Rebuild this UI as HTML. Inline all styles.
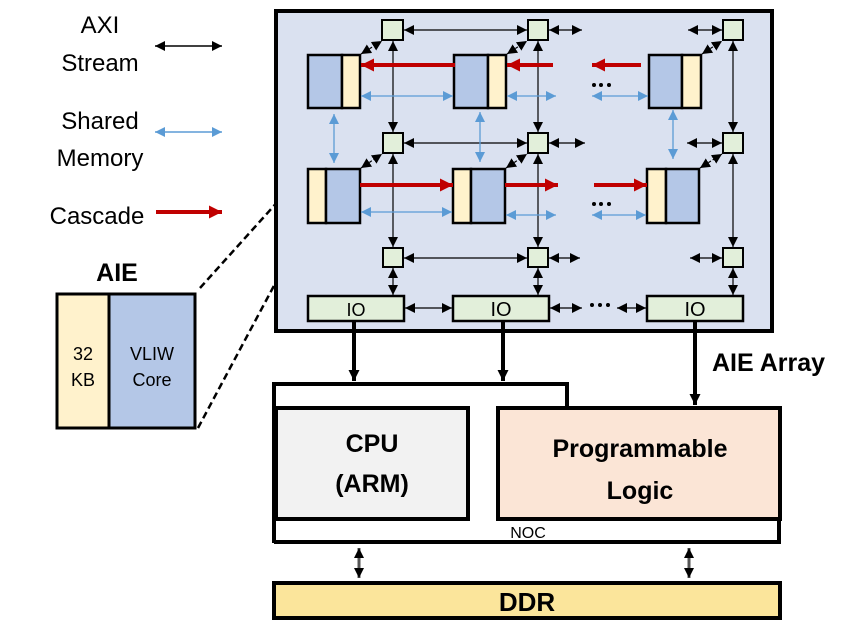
<!DOCTYPE html>
<html><head><meta charset="utf-8"><style>
html,body{margin:0;padding:0;background:#fff;}
svg{display:block;}
text{font-family:"Liberation Sans",sans-serif;}
</style></head><body>
<svg width="852" height="625" viewBox="0 0 852 625" xmlns="http://www.w3.org/2000/svg">
<defs>
<marker id="ka" viewBox="0 0 10 10" refX="10" refY="5" markerWidth="10" markerHeight="10" markerUnits="userSpaceOnUse" orient="auto-start-reverse"><path d="M0,0 L10,5 L0,10 z" fill="#000"/></marker>
<marker id="ba" viewBox="0 0 10 10" refX="10" refY="5" markerWidth="10" markerHeight="10" markerUnits="userSpaceOnUse" orient="auto-start-reverse"><path d="M0,0 L10,5 L0,10 z" fill="#5b9bd5"/></marker>
<marker id="ra" viewBox="0 0 10 10" refX="10" refY="5" markerWidth="13" markerHeight="13" markerUnits="userSpaceOnUse" orient="auto-start-reverse"><path d="M0,0 L10,5 L0,10 z" fill="#c00000"/></marker>
<marker id="ta" viewBox="0 0 10 10" refX="10" refY="5" markerWidth="11" markerHeight="11" markerUnits="userSpaceOnUse" orient="auto-start-reverse"><path d="M0,0 L10,5 L0,10 z" fill="#000"/></marker>
</defs>

<!-- Legend -->
<text x="100" y="33" font-size="24" text-anchor="middle">AXI</text>
<text x="100" y="71" font-size="24" text-anchor="middle">Stream</text>
<line x1="155" y1="46" x2="222" y2="46" stroke="#000" stroke-width="1.5" marker-start="url(#ka)" marker-end="url(#ka)"/>
<text x="100" y="129" font-size="24" text-anchor="middle">Shared</text>
<text x="100" y="166" font-size="24" text-anchor="middle">Memory</text>
<line x1="155" y1="132" x2="222" y2="132" stroke="#5b9bd5" stroke-width="1.5" marker-start="url(#ba)" marker-end="url(#ba)"/>
<text x="97" y="224" font-size="24" text-anchor="middle">Cascade</text>
<line x1="156" y1="212" x2="222" y2="212" stroke="#c00000" stroke-width="4" marker-end="url(#ra)"/>

<!-- AIE detail -->
<text x="117" y="281" font-size="25" font-weight="bold" text-anchor="middle">AIE</text>
<rect x="57" y="294" width="52" height="134" fill="#fff2cc" stroke="#000" stroke-width="3"/>
<rect x="109" y="294" width="86" height="134" fill="#b4c7e7" stroke="#000" stroke-width="3"/>
<text x="83" y="360" font-size="18" text-anchor="middle">32</text>
<text x="83" y="386" font-size="18" text-anchor="middle">KB</text>
<text x="152" y="360" font-size="18" text-anchor="middle">VLIW</text>
<text x="152" y="386" font-size="18" text-anchor="middle">Core</text>
<line x1="200" y1="288" x2="308" y2="168" stroke="#000" stroke-width="2.5" stroke-dasharray="7,4"/>
<line x1="198" y1="428" x2="308" y2="222" stroke="#000" stroke-width="2.5" stroke-dasharray="7,4"/>

<!-- Main AIE array -->
<rect x="276" y="11" width="496" height="320" fill="#dae1f0" stroke="#000" stroke-width="4"/>

<g stroke="#000" stroke-width="1.2" fill="none">
<line x1="393" y1="41" x2="393" y2="132" marker-start="url(#ka)" marker-end="url(#ka)"/>
<line x1="393" y1="154" x2="393" y2="247" marker-start="url(#ka)" marker-end="url(#ka)"/>
<line x1="393" y1="268" x2="393" y2="295" marker-start="url(#ka)" marker-end="url(#ka)"/>
<line x1="538" y1="41" x2="538" y2="132" marker-start="url(#ka)" marker-end="url(#ka)"/>
<line x1="538" y1="154" x2="538" y2="247" marker-start="url(#ka)" marker-end="url(#ka)"/>
<line x1="538" y1="268" x2="538" y2="295" marker-start="url(#ka)" marker-end="url(#ka)"/>
<line x1="733" y1="41" x2="733" y2="132" marker-start="url(#ka)" marker-end="url(#ka)"/>
<line x1="733" y1="154" x2="733" y2="247" marker-start="url(#ka)" marker-end="url(#ka)"/>
<line x1="733" y1="268" x2="733" y2="295" marker-start="url(#ka)" marker-end="url(#ka)"/>
<line x1="404" y1="30" x2="527" y2="30" marker-start="url(#ka)" marker-end="url(#ka)"/>
<line x1="549" y1="30" x2="582" y2="30" marker-start="url(#ka)" marker-end="url(#ka)"/>
<line x1="688" y1="30" x2="722" y2="30" marker-start="url(#ka)" marker-end="url(#ka)"/>
<line x1="404" y1="143" x2="527" y2="143" marker-start="url(#ka)" marker-end="url(#ka)"/>
<line x1="549" y1="143" x2="585" y2="143" marker-start="url(#ka)" marker-end="url(#ka)"/>
<line x1="687" y1="143" x2="722" y2="143" marker-start="url(#ka)" marker-end="url(#ka)"/>
<line x1="404" y1="258" x2="527" y2="258" marker-start="url(#ka)" marker-end="url(#ka)"/>
<line x1="549" y1="258" x2="580" y2="258" marker-start="url(#ka)" marker-end="url(#ka)"/>
<line x1="690" y1="258" x2="722" y2="258" marker-start="url(#ka)" marker-end="url(#ka)"/>
<line x1="405" y1="308" x2="452" y2="308" marker-start="url(#ka)" marker-end="url(#ka)"/>
<line x1="550" y1="308" x2="582" y2="308" marker-start="url(#ka)" marker-end="url(#ka)"/>
<line x1="617" y1="308" x2="646" y2="308" marker-start="url(#ka)" marker-end="url(#ka)"/>
<line x1="361" y1="54" x2="382" y2="41" stroke-dasharray="3,2" marker-start="url(#ka)" marker-end="url(#ka)"/>
<line x1="507" y1="54" x2="527" y2="41" stroke-dasharray="3,2" marker-start="url(#ka)" marker-end="url(#ka)"/>
<line x1="702" y1="54" x2="722" y2="41" stroke-dasharray="3,2" marker-start="url(#ka)" marker-end="url(#ka)"/>
<line x1="361" y1="168" x2="382" y2="154" stroke-dasharray="3,2" marker-start="url(#ka)" marker-end="url(#ka)"/>
<line x1="506" y1="168" x2="527" y2="154" stroke-dasharray="3,2" marker-start="url(#ka)" marker-end="url(#ka)"/>
<line x1="700" y1="168" x2="722" y2="154" stroke-dasharray="3,2" marker-start="url(#ka)" marker-end="url(#ka)"/>
</g>

<g fill="#e2efda" stroke="#000" stroke-width="2">
<rect x="382" y="20" width="21" height="20"/><rect x="528" y="20" width="20" height="20"/><rect x="723" y="20" width="20" height="20"/>
<rect x="383" y="133" width="20" height="20"/><rect x="528" y="133" width="20" height="20"/><rect x="723" y="133" width="20" height="20"/>
<rect x="383" y="248" width="20" height="19"/><rect x="528" y="248" width="20" height="19"/><rect x="723" y="248" width="20" height="19"/>
</g>

<g stroke="#000" stroke-width="2.5">
<rect x="308" y="55" width="34" height="53" fill="#b4c7e7"/><rect x="342" y="55" width="18" height="53" fill="#fff2cc"/>
<rect x="454" y="55" width="34" height="53" fill="#b4c7e7"/><rect x="488" y="55" width="18" height="53" fill="#fff2cc"/>
<rect x="649" y="55" width="33" height="53" fill="#b4c7e7"/><rect x="682" y="55" width="19" height="53" fill="#fff2cc"/>
<rect x="308" y="169" width="18" height="54" fill="#fff2cc"/><rect x="326" y="169" width="34" height="54" fill="#b4c7e7"/>
<rect x="453" y="169" width="18" height="54" fill="#fff2cc"/><rect x="471" y="169" width="34" height="54" fill="#b4c7e7"/>
<rect x="647" y="169" width="19" height="54" fill="#fff2cc"/><rect x="666" y="169" width="33" height="54" fill="#b4c7e7"/>
</g>

<g fill="#e2efda" stroke="#000" stroke-width="2.5">
<rect x="308" y="296" width="96" height="25"/><rect x="453" y="296" width="96" height="25"/><rect x="647" y="296" width="96" height="25"/>
</g>
<text x="356" y="316" font-size="18" text-anchor="middle">IO</text>
<text x="501" y="316" font-size="20" text-anchor="middle">IO</text>
<text x="695" y="316" font-size="20" text-anchor="middle">IO</text>

<g stroke="#c00000" stroke-width="4">
<line x1="455" y1="65" x2="361" y2="65" marker-end="url(#ra)"/>
<line x1="553" y1="65" x2="507" y2="65" marker-end="url(#ra)"/>
<line x1="641" y1="65" x2="592" y2="65" marker-end="url(#ra)"/>
<line x1="360" y1="185" x2="453" y2="185" marker-end="url(#ra)"/>
<line x1="505" y1="185" x2="558" y2="185" marker-end="url(#ra)"/>
<line x1="594" y1="185" x2="647" y2="185" marker-end="url(#ra)"/>
</g>
<g stroke="#5b9bd5" stroke-width="1.3">
<line x1="361" y1="96" x2="453" y2="96" marker-start="url(#ba)" marker-end="url(#ba)"/>
<line x1="507" y1="96" x2="556" y2="96" marker-start="url(#ba)" marker-end="url(#ba)"/>
<line x1="592" y1="96" x2="648" y2="96" marker-start="url(#ba)" marker-end="url(#ba)"/>
<line x1="361" y1="212" x2="452" y2="212" marker-start="url(#ba)" marker-end="url(#ba)"/>
<line x1="506" y1="215" x2="556" y2="215" marker-start="url(#ba)" marker-end="url(#ba)"/>
<line x1="592" y1="215" x2="646" y2="215" marker-start="url(#ba)" marker-end="url(#ba)"/>
<line x1="334" y1="114" x2="334" y2="163" marker-start="url(#ba)" marker-end="url(#ba)"/>
<line x1="480" y1="112" x2="480" y2="162" marker-start="url(#ba)" marker-end="url(#ba)"/>
<line x1="673" y1="110" x2="673" y2="159" marker-start="url(#ba)" marker-end="url(#ba)"/>
</g>
<g fill="#000">
<circle cx="594" cy="85" r="2"/><circle cx="601" cy="85" r="2"/><circle cx="609" cy="85" r="2"/>
<circle cx="594" cy="204" r="2"/><circle cx="601" cy="204" r="2"/><circle cx="609" cy="204" r="2"/>
<circle cx="592" cy="305" r="2"/><circle cx="600" cy="305" r="2"/><circle cx="608" cy="305" r="2"/>
</g>

<g stroke="#000" stroke-width="4">
<line x1="354" y1="322" x2="354" y2="381" marker-end="url(#ta)"/>
<line x1="503" y1="322" x2="503" y2="381" marker-end="url(#ta)"/>
<line x1="695" y1="322" x2="695" y2="405" marker-end="url(#ta)"/>
</g>
<text x="712" y="371" font-size="25" font-weight="bold">AIE Array</text>

<path d="M274,543 V384 H567 V407" fill="none" stroke="#000" stroke-width="4"/>
<path d="M274,542 H779 V520" fill="none" stroke="#000" stroke-width="4"/>
<rect x="276" y="408" width="192" height="111" fill="#f2f2f2" stroke="#000" stroke-width="4"/>
<rect x="498" y="408" width="282" height="111" fill="#fbe5d6" stroke="#000" stroke-width="4"/>
<text x="372" y="452" font-size="25" font-weight="bold" text-anchor="middle">CPU</text>
<text x="372" y="492" font-size="25" font-weight="bold" text-anchor="middle">(ARM)</text>
<text x="640" y="457" font-size="25" font-weight="bold" text-anchor="middle">Programmable</text>
<text x="640" y="499" font-size="25" font-weight="bold" text-anchor="middle">Logic</text>
<text x="528" y="538" font-size="16" text-anchor="middle">NOC</text>

<g stroke="#555" stroke-width="3">
<line x1="359" y1="548" x2="359" y2="578" marker-start="url(#ka)" marker-end="url(#ka)"/>
<line x1="689" y1="548" x2="689" y2="578" marker-start="url(#ka)" marker-end="url(#ka)"/>
</g>
<rect x="274" y="583" width="506" height="35" fill="#fbe59b" stroke="#000" stroke-width="4"/>
<text x="527" y="611" font-size="26" font-weight="bold" text-anchor="middle">DDR</text>
</svg>
</body></html>
